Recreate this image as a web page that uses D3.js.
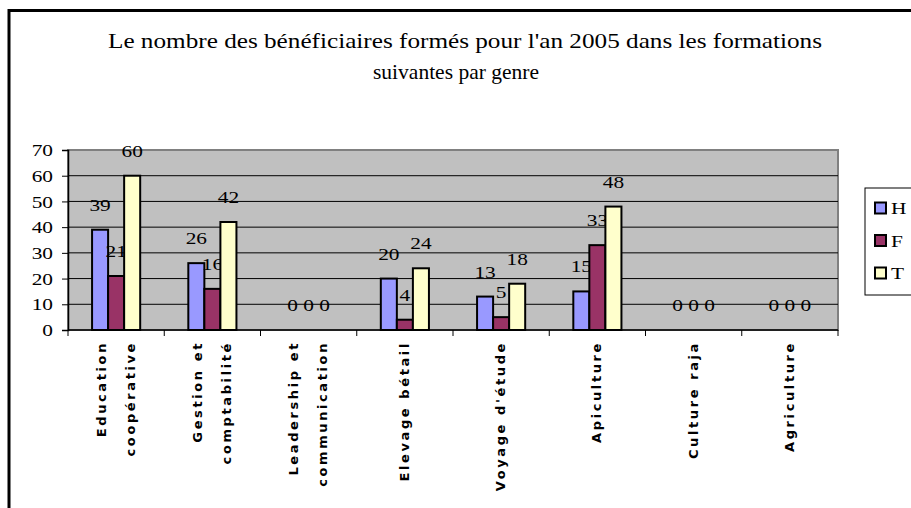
<!DOCTYPE html>
<html>
<head>
<meta charset="utf-8">
<script src="https://cdn.jsdelivr.net/npm/d3@7"></script>
<style>
  body { margin: 0; background: #fff; }
  svg { display: block; }
  .serif { font-family: "Liberation Serif", "Times New Roman", Times, serif; }
  .cat { font-family: "DejaVu Sans", sans-serif; font-weight: bold; }
</style>
</head>
<body>
<div id="chart"></div>
<script>
// data
var categories = [
  ["Education", "coopérative"],
  ["Gestion et", "comptabilité"],
  ["Leadership et", "communication"],
  ["Elevage bétail"],
  ["Voyage d'étude"],
  ["Apiculture"],
  ["Culture raja"],
  ["Agriculture"]
];
var seriesNames = ["H", "F", "T"];
var valuesH = [39, 26, 0, 20, 13, 15, 0, 0];
var valuesF = [21, 16, 0, 4, 5, 33, 0, 0];
var valuesT = [60, 42, 0, 24, 18, 48, 0, 0];
var yTicks = [0, 10, 20, 30, 40, 50, 60, 70];
var colors = ["#9999FF", "#993366", "#FFFFCC"];

var series = [valuesH, valuesF, valuesT];

var W = 911, H = 508;
var plot = {left: 68, top: 150, right: 838, bottom: 330};
var stretch = "scale(1.22,1)";   // the original text is drawn a bit wide

var svg = d3.select("#chart")
  .append("svg")
    .attr("width", W)
    .attr("height", H);

// outer chart border (runs off the right and bottom edges)
svg.append("path")
  .attr("d", "M9," + (H + 5) + "V10.5H" + (W + 5))
  .attr("fill", "none")
  .attr("stroke", "#000")
  .attr("stroke-width", 3);

// title
var title = svg.append("g")
  .attr("class", "serif")
  .style("font-size", "22px")
  .attr("fill", "#000")
  .attr("text-anchor", "middle");
title.append("text")
  .attr("x", 465).attr("y", 48)
  .attr("textLength", 714).attr("lengthAdjust", "spacingAndGlyphs")
  .text("Le nombre des bénéficiaires formés pour l'an 2005 dans les formations");
title.append("text")
  .attr("x", 456).attr("y", 79)
  .attr("textLength", 166).attr("lengthAdjust", "spacingAndGlyphs")
  .text("suivantes par genre");

// scales
var x0 = d3.scaleBand()
  .domain(d3.range(categories.length))
  .range([plot.left, plot.right])
  .padding(0);

var gap = x0.bandwidth() / 6;   // gap width 150% of a bar
var x1 = d3.scaleBand()
  .domain(d3.range(series.length))
  .range([gap * 1.5, x0.bandwidth() - gap * 1.5])
  .padding(0);

var y = d3.scaleLinear()
  .domain([0, 70])
  .range([plot.bottom, plot.top]);

// plot area
svg.append("rect")
  .attr("x", plot.left).attr("y", plot.top)
  .attr("width", plot.right - plot.left)
  .attr("height", plot.bottom - plot.top)
  .attr("fill", "#C0C0C0")
  .attr("stroke", "#808080")
  .attr("stroke-width", 2);

// gridlines
svg.append("g")
  .selectAll("line")
  .data(yTicks.filter(function(d) { return d > 0 && d < 70; }))
  .enter()
  .append("line")
    .attr("x1", plot.left).attr("x2", plot.right)
    .attr("y1", function(d) { return y(d); })
    .attr("y2", function(d) { return y(d); })
    .attr("stroke", "#000")
    .attr("stroke-width", 1);

// y axis
var yAxis = svg.append("g")
  .attr("transform", "translate(" + plot.left + ",0)")
  .call(d3.axisLeft(y).tickValues(yTicks).tickSize(6));
yAxis.attr("font-family", null).attr("font-size", null);
yAxis.select(".domain").attr("stroke", "#000").attr("stroke-width", 1.5);
yAxis.selectAll("line").attr("stroke", "#000");
yAxis.selectAll("text")
  .attr("class", "serif")
  .attr("x", 0)
  .attr("transform", "translate(-15,0) " + stretch)
  .style("font-size", "17.5px")
  .attr("fill", "#000");

// x axis (ticks between categories)
var xAxis = svg.append("g")
  .attr("transform", "translate(0," + plot.bottom + ")");
xAxis.append("line")
  .attr("x1", plot.left).attr("x2", plot.right)
  .attr("stroke", "#000").attr("stroke-width", 1.5);
xAxis.selectAll(".tk")
  .data(d3.range(categories.length + 1))
  .enter()
  .append("line")
    .attr("class", "tk")
    .attr("x1", function(d) { return plot.left + d * x0.bandwidth(); })
    .attr("x2", function(d) { return plot.left + d * x0.bandwidth(); })
    .attr("y1", 0).attr("y2", 6)
    .attr("stroke", "#000");

// category labels, rotated
var catLabels = xAxis.selectAll(".cat")
  .data(categories)
  .enter()
  .append("text")
    .attr("class", "cat")
    .attr("transform", function(d, i) {
      var cx = x0(i) + x0.bandwidth() / 2;
      return "translate(" + cx + ",11) rotate(-90)";
    })
    .attr("text-anchor", "end")
    .style("font-size", "13px")
    .style("letter-spacing", "2.6px")
    .attr("fill", "#000");

catLabels.selectAll("tspan")
  .data(function(d) {
    return d.map(function(s, j) { return {s: s, j: j, n: d.length}; });
  })
  .enter()
  .append("tspan")
    .attr("x", 0)
    .attr("y", function(d) { return (d.j - (d.n - 1) / 2) * 29 + 4; })
    .text(function(d) { return d.s; });

// bars
var groups = svg.append("g")
  .selectAll("g")
  .data(series)
  .enter()
  .append("g")
    .attr("fill", function(d, i) { return colors[i]; });

groups.selectAll("rect")
  .data(function(d, si) {
    return d.map(function(v, ci) { return {v: v, ci: ci, si: si}; });
  })
  .enter()
  .filter(function(d) { return d.v > 0; })
  .append("rect")
    .attr("x", function(d) { return x0(d.ci) + x1(d.si); })
    .attr("y", function(d) { return y(d.v); })
    .attr("width", x1.bandwidth())
    .attr("height", function(d) { return y(0) - y(d.v); })
    .attr("stroke", "#000")
    .attr("stroke-width", 2);

// value labels
groups.selectAll("text")
  .data(function(d, si) {
    return d.map(function(v, ci) { return {v: v, ci: ci, si: si}; });
  })
  .enter()
  .append("text")
    .attr("class", "serif")
    .attr("transform", function(d) {
      var lx = x0(d.ci) + x1(d.si) + x1.bandwidth() / 2;
      return "translate(" + lx + "," + (y(d.v) - 19) + ") " + stretch;
    })
    .attr("text-anchor", "middle")
    .style("font-size", "17.5px")
    .attr("fill", "#000")
    .text(function(d) { return d.v; });

// legend
var legend = svg.append("g")
  .attr("transform", "translate(865,188)");
legend.append("rect")
  .attr("x", 0).attr("y", 0)
  .attr("width", 60).attr("height", 107)
  .attr("fill", "#fff")
  .attr("stroke", "#000")
  .attr("stroke-width", 1);

var items = legend.selectAll(".item")
  .data(seriesNames)
  .enter()
  .append("g")
    .attr("class", "item")
    .attr("transform", function(d, i) { return "translate(0," + (20 + i * 32.5) + ")"; });
items.append("rect")
  .attr("x", 10).attr("y", -5.5)
  .attr("width", 11).attr("height", 11)
  .attr("fill", function(d, i) { return colors[i]; })
  .attr("stroke", "#000")
  .attr("stroke-width", 2);
items.append("text")
  .attr("class", "serif")
  .attr("transform", "translate(26,6) " + stretch)
  .style("font-size", "17.5px")
  .attr("fill", "#000")
  .text(function(d) { return d; });
</script>
</body>
</html>
